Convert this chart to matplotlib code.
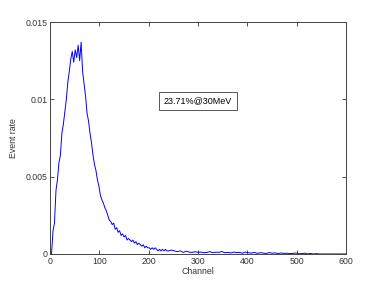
import numpy as np
import matplotlib.pyplot as plt

plt.rcParams['font.family'] = ['Liberation Sans', 'DejaVu Sans']

# channel / event rate
channel_a = list(range(0, 241, 3))
rate_a = [0, 0, 0.0015, 0.0020, 0.0041, 0.0048, 0.0059, 0.0064, 0.0078, 0.0084,
          0.0092, 0.0100, 0.0111, 0.0118, 0.0126, 0.0131, 0.0124, 0.0132, 0.0127, 0.0135,
          0.0125, 0.0137, 0.0118, 0.0110, 0.0102, 0.0091, 0.0086, 0.0078, 0.0072, 0.0064,
          0.0058, 0.0054, 0.0048, 0.0044, 0.0038, 0.0035, 0.0033, 0.0030, 0.0028, 0.0025,
          0.0022, 0.0021, 0.0019, 0.0020, 0.0016, 0.0017, 0.0014, 0.0015, 0.0012, 0.0013,
          0.0011, 0.0012, 0.0009, 0.0010, 0.0009, 0.0008, 0.0009, 0.0007, 0.0008, 0.0006,
          0.0007, 0.0006, 0.0005, 0.0006, 0.0004, 0.0005, 0.0004, 0.0004, 0.0003, 0.0004,
          0.0003, 0.0004, 0.0003, 0.0002, 0.0003, 0.0002, 0.0003, 0.0002, 0.0003, 0.0002,
          0.0002]
channel_b = list(range(246, 601, 6))
rate_b = [0.00025, 0.0002, 0.00015, 0.0002, 0.0001, 0.00018, 0.00012, 0.0001, 0.00015, 0.0001,
          0.00012, 0.00008, 0.0001, 0.00015, 0.00008, 0.00012, 0.0001, 0.00016, 0.00008, 0.0001,
          0.00007, 0.00012, 0.00009, 0.0001, 0.00005, 0.00012, 0.00008, 0.00006, 0.0001, 0.00004,
          0.00008, 0.00006, 0.00003, 0.00009, 0.00005, 0.00007, 0.00003, 0.00006, 0.00004, 0.00005,
          0.00002, 0.00004, 0.00006, 0.00002, 0.00002, 0.00005, 0.00001, 0.00003, 0, 0.00002,
          0, 0, 0, 0, 0, 0, 0, 0, 0, 0]

channel = channel_a + channel_b
rate = rate_a + rate_b

label = "23.71%@30MeV"

fig = plt.figure(figsize=(3.82, 2.86), dpi=100)
ax = fig.add_axes([0.131, 0.112, 0.775, 0.811])

ax.plot(channel, rate, color="#0000ff", linewidth=0.7)

ax.set_xlim(0, 600)
ax.set_ylim(0, 0.015)
ax.set_xticks([0, 100, 200, 300, 400, 500, 600])
ax.set_yticks([0, 0.005, 0.01, 0.015])
ax.set_yticklabels(["0", "0.005", "0.01", "0.015"])
ax.tick_params(direction="in", top=True, right=True, length=3, width=0.6,
               labelsize=6.3, colors="#333333", pad=2)
for s in ax.spines.values():
    s.set_linewidth(0.7)
    s.set_color("#444444")

ax.set_xlabel("Channel", fontsize=6.3, color="#333333", labelpad=1)
ax.set_ylabel("Event rate", fontsize=6.3, color="#333333", labelpad=5)

ax.text(300, 0.0099, label, fontsize=6.5, ha="center", va="center",
        bbox=dict(boxstyle="square,pad=0.5", facecolor="white",
                  edgecolor="#555555", linewidth=0.7))

fig.savefig("out.png", dpi=100)
